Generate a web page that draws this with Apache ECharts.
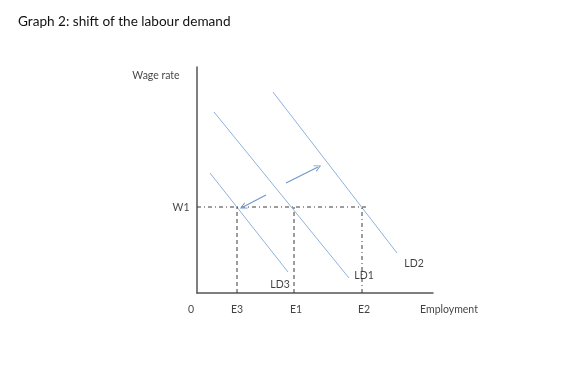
<!DOCTYPE html>
<html><head><meta charset="utf-8">
<script src="https://cdn.jsdelivr.net/npm/echarts@6/dist/echarts.min.js"></script>
<style>html,body{margin:0;padding:0;background:#fff}#c{width:588px;height:373px}</style>
</head><body><div id="c"></div>
<script>
// Data (axis units: x = employment, y = wage rate)
const ld3 = [[13, 120], [91, 21]];
const ld1 = [[17, 181], [152, 15]];
const ld2 = [[76, 201], [200, 40]];
const wageW1 = 86;
const empE3 = 40, empE1 = 97, empE2 = 165;
const w1Line = [[0, wageW1], [170, wageW1]];
const arrowRight = [[89, 110], [121, 126]];
const arrowLeft = [[69, 98], [46, 86]];
const curveLabels = [
  {name: 'LD3', value: [83, 8]},
  {name: 'LD1', value: [167, 17]},
  {name: 'LD2', value: [217, 29]}
];
const axisLabels = [
  {name: '0', value: [-6, -17]},
  {name: 'E3', value: [empE3, -17]},
  {name: 'E1', value: [empE1 + 2, -17]},
  {name: 'E2', value: [empE2 + 2, -17]},
  {name: 'Employment', value: [252, -17]},
  {name: 'W1', value: [-16, wageW1 - 1]},
  {name: 'Wage rate', value: [-41, 217]}
];

const lineC = '#8fb1dc';
const dashC = '#3a3a3a';
const chart = echarts.init(document.getElementById('c'));
function seg(data, color, type, w) {
  return {type: 'line', data: data, symbol: 'none', silent: true,
    lineStyle: {color: color, width: w || 1, type: type || 'solid'}, z: 3};
}
chart.setOption({
  animation: false,
  title: {text: 'Graph 2: shift of the labour demand', left: 13, top: 10,
    textStyle: {fontFamily: 'Lato', fontSize: 13.6, fontWeight: 'normal', color: '#111'}},
  grid: {left: 197, top: 67, width: 236, height: 226},
  xAxis: {type: 'value', min: 0, max: 236, splitLine: {show: false},
    axisLine: {show: true, onZero: false, lineStyle: {color: '#555', width: 1.5}},
    axisTick: {show: false}, axisLabel: {show: false}},
  yAxis: {type: 'value', min: 0, max: 226, splitLine: {show: false},
    axisLine: {show: true, onZero: false, lineStyle: {color: '#555', width: 1.5}},
    axisTick: {show: false}, axisLabel: {show: false}},
  series: [
    seg(ld3, lineC), seg(ld1, lineC), seg(ld2, lineC),
    seg(w1Line, dashC, [4, 3, 1, 3], 1),
    seg([[empE3, 0], [empE3, wageW1]], dashC, [4, 3], 1),
    seg([[empE1, 0], [empE1, wageW1]], dashC, [4, 3], 1),
    seg([[empE2, 0], [empE2, wageW1]], dashC, [4, 3, 1, 3], 1),
    {type: 'lines', coordinateSystem: 'cartesian2d', silent: true, z: 4,
      symbol: ['none', 'path://M0,10 L5,0 L10,10 L8.6,10 L5,2.6 L1.4,10 Z'], symbolSize: [9, 7],
      lineStyle: {color: '#6f97cc', width: 1.2, opacity: 1},
      data: [{coords: arrowRight}, {coords: arrowLeft}]},
    {type: 'scatter', data: curveLabels.concat(axisLabels), symbolSize: 0, silent: true, z: 5, clip: false,
      label: {show: true, position: 'inside', formatter: p => p.name,
        fontFamily: 'Lato', fontSize: 10.5, color: '#111'}}
  ]
});
</script></body></html>
